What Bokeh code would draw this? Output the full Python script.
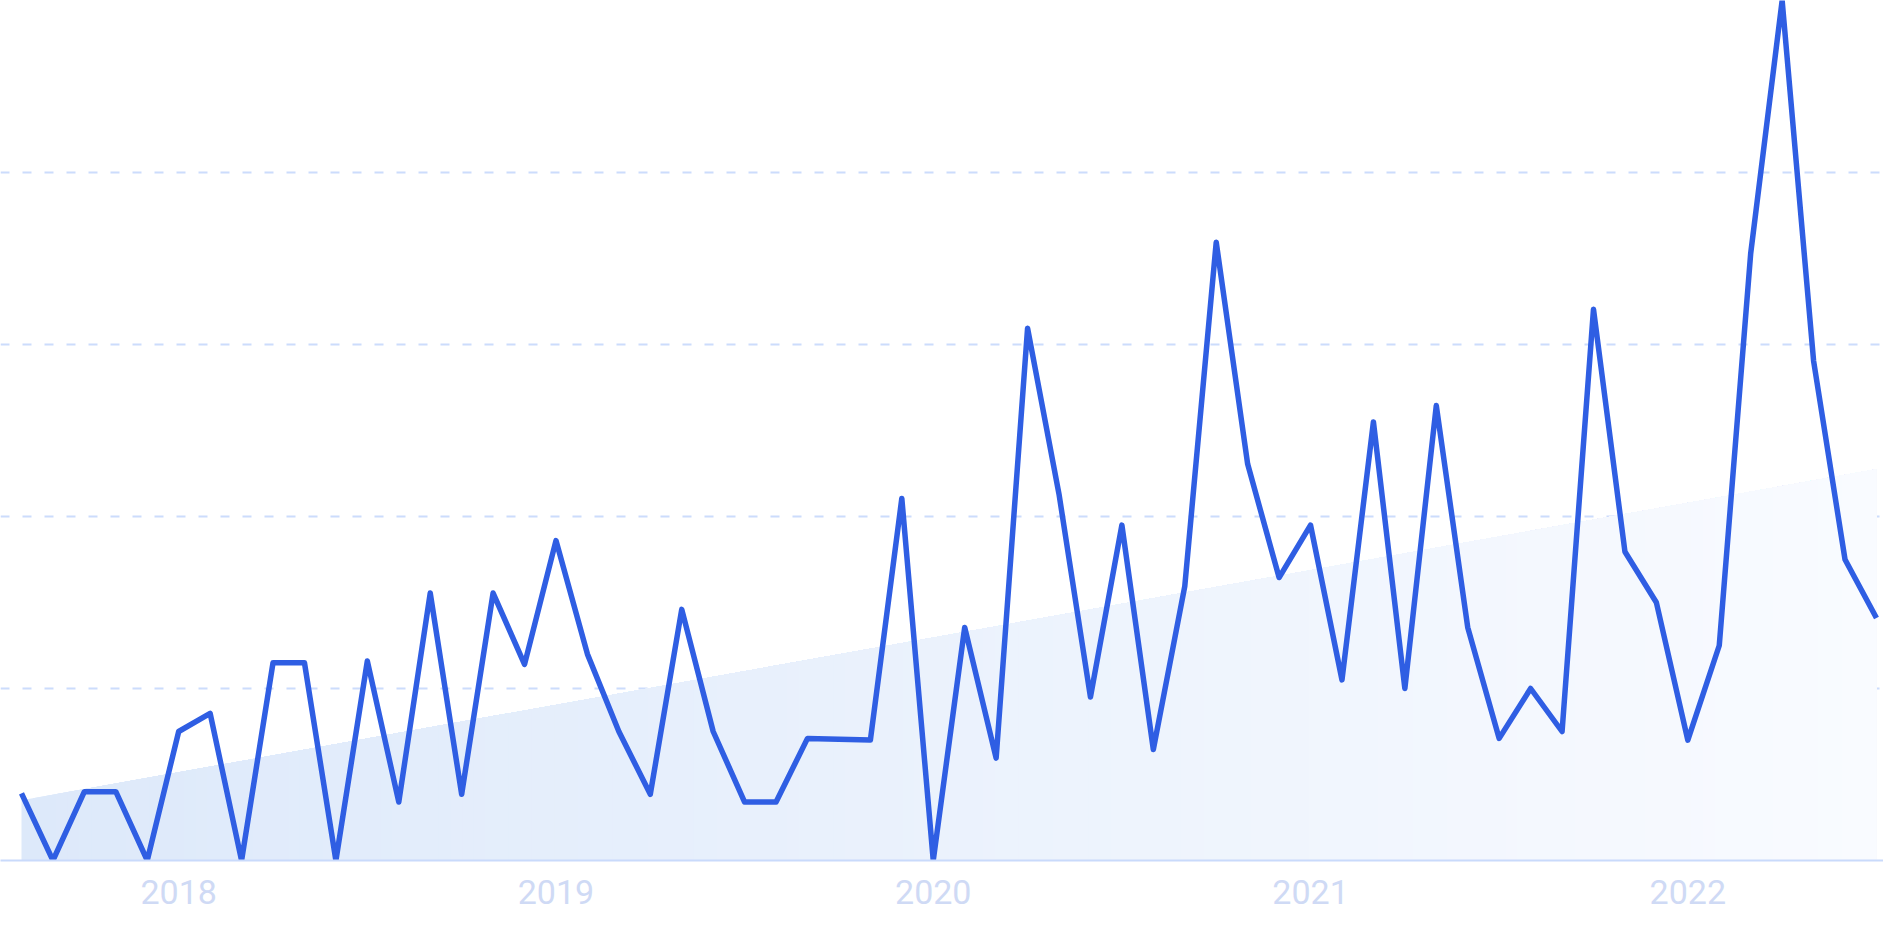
from bokeh.plotting import figure
from bokeh.models import Range1d, FixedTicker
from bokeh.embed import file_html
from bokeh.resources import INLINE

# ---- data -------------------------------------------------------------
start_year, start_month = 2017, 8
values = [7.8, 0, 8.0, 8.0, 0, 15.0, 17.1, 0, 23.0, 23.0,
          0, 23.2, 6.8, 31.1, 7.7, 31.1, 22.8, 37.2, 24.0, 15.0,
          7.7, 29.2, 15.0, 6.8, 6.8, 14.2, 14.1, 14.0, 42.1, 0,
          27.1, 11.9, 61.9, 42.6, 19.0, 39.0, 12.9, 31.9, 71.9, 46.1,
          32.9, 39.0, 21.0, 51.0, 20.0, 52.9, 27.1, 14.2, 20.0, 15.0,
          64.1, 35.9, 30.0, 14.0, 25.0, 70.6, 100.0, 58.1, 35.0, 28.2]
months = [f"{start_year + (start_month - 1 + k) // 12}-{(start_month - 1 + k) % 12 + 1:02d}"
          for k in range(len(values))]
trend_values = [7.0, 45.5]          # trend at first and last month
grid_values = [20, 40, 60, 80, 100]

idx = list(range(len(values)))
tick_idx = [i for i, m in enumerate(months) if m.endswith("-01")]
tick_labels = {i: months[i][:4] for i in tick_idx}

# ---- figure -----------------------------------------------------------
W, H = 1883, 941
step = 31.44
x_start = -21 / step
x_end = x_start + W / step

p = figure(width=W, height=H, output_backend="svg", toolbar_location=None,
           x_range=Range1d(x_start, x_end), y_range=Range1d(0, 100),
           y_axis_location=None, min_border=0, min_border_bottom=81,
           background_fill_color="white",
           border_fill_color="white", outline_line_color=None)

# trend area with a left-to-right fading fill, built from stacked patches
n_strips = 160
x0, x1 = idx[0], idx[-1]
t0, t1 = trend_values
c_left = (221, 233, 250)
c_right = (249, 251, 255)
xs, ys, cols = [], [], []
for k in range(n_strips):
    xa = x0 + (x1 - x0) * k / n_strips
    ta = t0 + (t1 - t0) * (xa - x0) / (x1 - x0)
    xs.append([xa, x1, x1, xa])
    ys.append([0, 0, t1, ta])
    f = k / (n_strips - 1)
    c = tuple(int(round(c_left[j] + (c_right[j] - c_left[j]) * f)) for j in range(3))
    cols.append("#%02x%02x%02x" % c)
p.patches(xs, ys, fill_color=cols, line_color=None)

# main line
p.line(idx, values, line_color="#2f5ee3", line_width=5.5,
       line_join="round", line_cap="butt")

# grid
p.xgrid.visible = False
p.ygrid.ticker = FixedTicker(ticks=grid_values)
p.ygrid.grid_line_color = "#ccdcfc"
p.ygrid.grid_line_width = 2
p.ygrid.grid_line_dash = "9 13"

# x axis
ax = p.xaxis[0]
ax.ticker = FixedTicker(ticks=tick_idx)
ax.major_label_overrides = tick_labels
ax.axis_line_color = "#c9dafb"
ax.axis_line_width = 2
ax.major_tick_line_color = None
ax.minor_tick_line_color = None
ax.major_tick_out = 0
ax.major_tick_in = 0
ax.major_label_standoff = 19
ax.major_label_text_color = "#cfdaf5"
ax.major_label_text_font = "Roboto"
ax.major_label_text_font_size = "34px"

open("out.html", "w").write(file_html(p, INLINE))
